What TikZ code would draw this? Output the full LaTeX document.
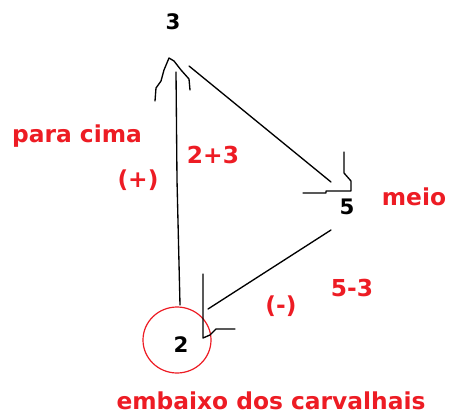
\documentclass[tikz,border=0pt]{standalone}
\usepackage{fontspec}
\setmainfont{DejaVu Sans}
\definecolor{mspred}{RGB}{237,28,36}
\begin{document}
\begin{tikzpicture}[x=0.75pt,y=-0.75pt,
  lbl/.style={text=mspred,font=\bfseries\fontsize{17.5}{20}\selectfont,inner sep=0pt},
  num/.style={text=black,font=\bfseries\fontsize{16}{18}\selectfont,inner sep=0pt},
  stroke/.style={black,line width=1pt,line join=round,line cap=round}]
\useasboundingbox (0,0) rectangle (449,414);
% number nodes
\node[num] (n3) at (173,22) {3};
\node[num] (n5) at (347,207) {5};
\node[num] (n2) at (181,345) {2};
% circle around 2
\draw[mspred,line width=0.9pt] (n2) ++(-4,-5) ellipse [x radius=34, y radius=33];
% labels
\node[lbl] (parac) at (77,136) {para cima};
\node[lbl] (plus) at (138,180) {(+)};
\node[lbl] (sum) at (213,155) {2+3};
\node[lbl] (meio) at (414,197) {meio};
\node[lbl] (diff) at (352,288) {5-3};
\node[lbl] (minus) at (281,306) {(-)};
\node[lbl] (emb) at (271,401) {embaixo dos carvalhais};
% connector endpoints
\coordinate (a1) at (180,305);
\coordinate (a2) at (176,72);
\coordinate (b1) at (189,66);
\coordinate (b2) at (331,182);
\coordinate (c1) at (331,230);
\coordinate (c2) at (208,309);
% connectors
\draw[stroke] (a1) -- (177,180) -- (a2);
\draw[stroke] (b1) -- (b2);
\draw[stroke] (c1) -- (c2);
% hand drawn arrowheads
\draw[stroke] (155,101) -- (156,88) -- (161,81) -- (164,70) -- (169,58) -- (174,61) -- (181,70) -- (189,79) -- (190,90);
\draw[stroke] (344,152) -- (344,173) -- (351,181) -- (351,191) -- (326,191) -- (326,193) -- (303,193);
\draw[stroke] (203,274) -- (203,338) -- (210,335) -- (216,329) -- (235,329);
\end{tikzpicture}
\end{document}
